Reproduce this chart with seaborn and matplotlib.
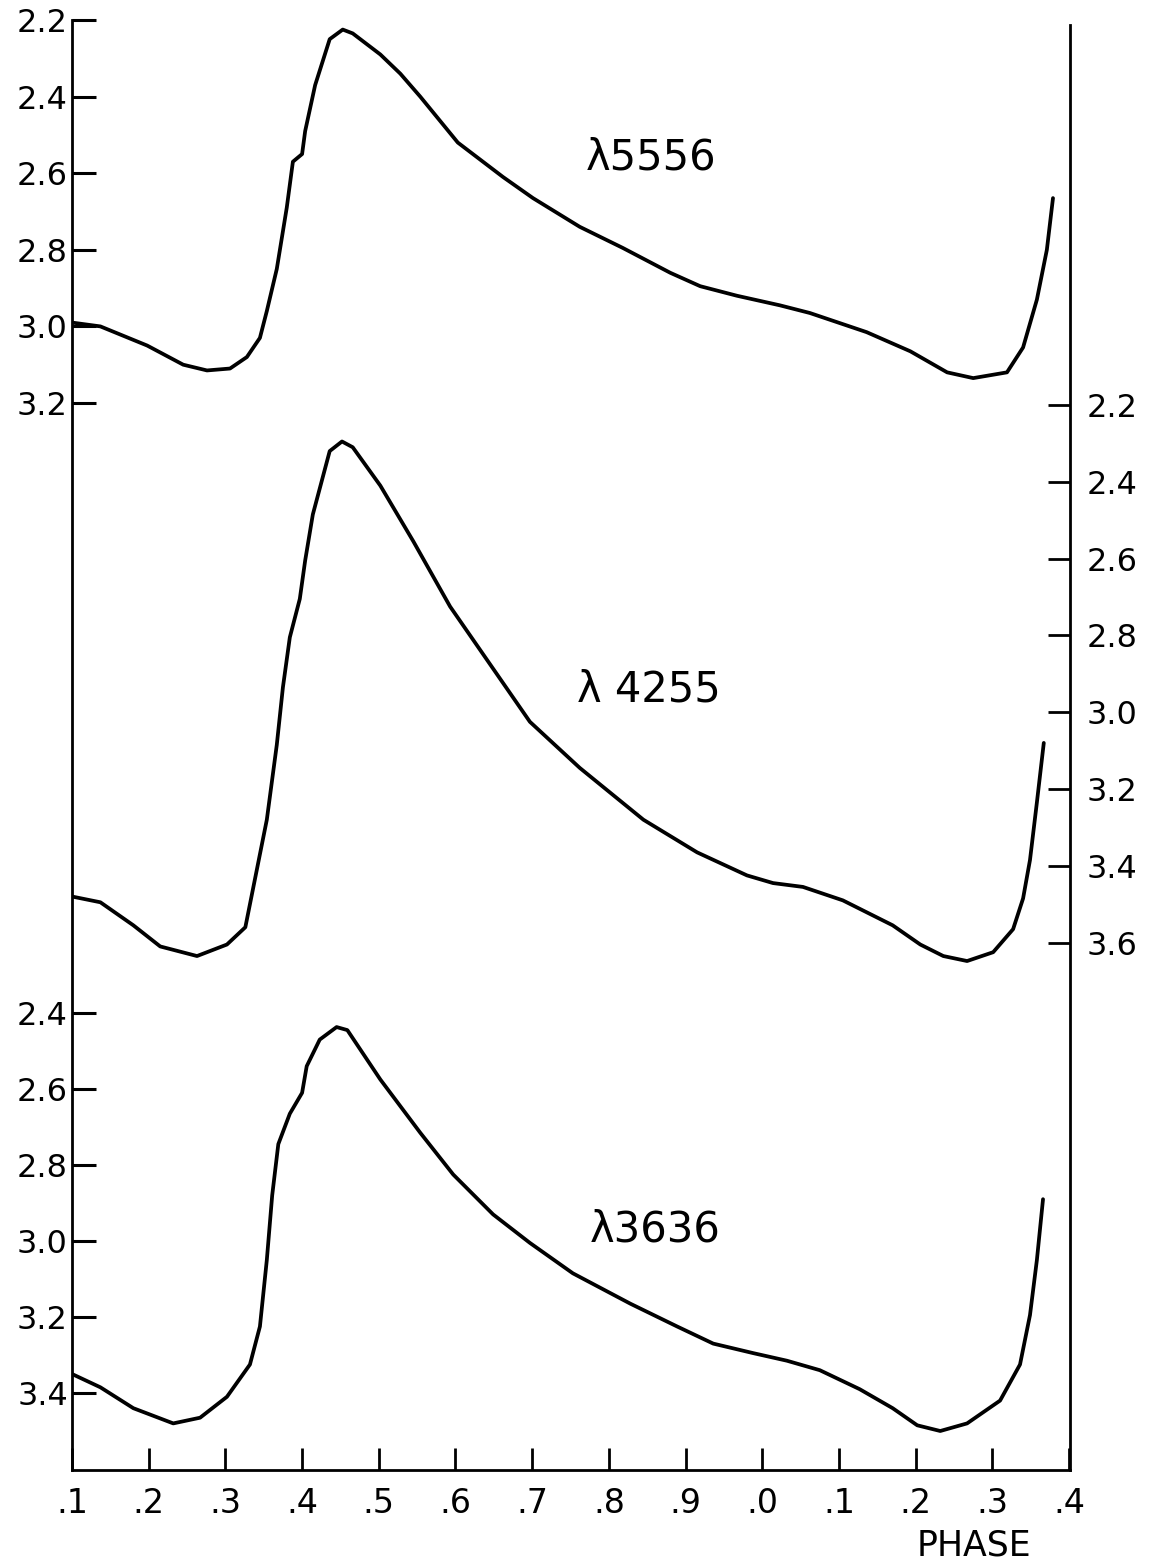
import matplotlib
matplotlib.use("Agg")
import matplotlib.pyplot as plt
import numpy as np
import pandas as pd
import seaborn as sns

# ---------------- data ----------------
phase_5556 = [0.100, 0.137, 0.198, 0.245, 0.276, 0.306, 0.328, 0.345, 0.354, 0.367,
              0.380, 0.388, 0.400, 0.404, 0.417, 0.436, 0.453, 0.466, 0.502, 0.528,
              0.554, 0.603, 0.662, 0.701, 0.762, 0.818, 0.880, 0.919, 0.967, 1.023,
              1.062, 1.136, 1.193, 1.241, 1.275, 1.319, 1.340, 1.358, 1.371, 1.379]
mag_5556 = [2.99, 3.00, 3.05, 3.10, 3.115, 3.11, 3.08, 3.03, 2.96, 2.85,
            2.69, 2.57, 2.55, 2.49, 2.37, 2.25, 2.225, 2.235, 2.29, 2.34,
            2.40, 2.52, 2.61, 2.665, 2.74, 2.795, 2.86, 2.895, 2.92, 2.945,
            2.965, 3.015, 3.065, 3.12, 3.135, 3.12, 3.055, 2.93, 2.80, 2.665]

phase_4255 = [0.100, 0.137, 0.180, 0.215, 0.263, 0.302, 0.326, 0.336, 0.354, 0.367,
              0.375, 0.384, 0.397, 0.404, 0.414, 0.436, 0.452, 0.466, 0.502, 0.545,
              0.593, 0.645, 0.697, 0.762, 0.845, 0.915, 0.980, 1.014, 1.053, 1.105,
              1.170, 1.206, 1.236, 1.267, 1.301, 1.327, 1.340, 1.349, 1.358, 1.367]
mag_4255 = [3.48, 3.495, 3.555, 3.61, 3.635, 3.605, 3.56, 3.46, 3.28, 3.085,
            2.935, 2.805, 2.705, 2.605, 2.485, 2.32, 2.295, 2.31, 2.41, 2.555,
            2.725, 2.875, 3.025, 3.145, 3.28, 3.365, 3.425, 3.445, 3.455, 3.49,
            3.555, 3.605, 3.635, 3.648, 3.625, 3.565, 3.485, 3.385, 3.235, 3.08]

phase_3636 = [0.100, 0.137, 0.180, 0.232, 0.267, 0.302, 0.332, 0.345, 0.354, 0.361,
              0.369, 0.384, 0.400, 0.406, 0.423, 0.445, 0.459, 0.502, 0.554, 0.597,
              0.649, 0.697, 0.753, 0.828, 0.889, 0.936, 0.988, 1.032, 1.075, 1.127,
              1.170, 1.202, 1.232, 1.267, 1.310, 1.336, 1.349, 1.358, 1.366]
mag_3636 = [3.35, 3.385, 3.44, 3.48, 3.465, 3.41, 3.325, 3.225, 3.05, 2.88,
            2.745, 2.665, 2.61, 2.54, 2.47, 2.437, 2.445, 2.575, 2.715, 2.825,
            2.93, 3.005, 3.085, 3.165, 3.225, 3.27, 3.295, 3.315, 3.34, 3.39,
            3.44, 3.485, 3.50, 3.48, 3.42, 3.325, 3.195, 3.05, 2.89]

labels = ["λ5556", "λ 4255", "λ3636"]

x_ticks = [0.1, 0.2, 0.3, 0.4, 0.5, 0.6, 0.7, 0.8, 0.9, 1.0, 1.1, 1.2, 1.3, 1.4]
x_ticklabels = [".1", ".2", ".3", ".4", ".5", ".6", ".7", ".8", ".9", ".0",
                ".1", ".2", ".3", ".4"]
yticks_5556 = [2.2, 2.4, 2.6, 2.8, 3.0, 3.2]
yticks_4255 = [2.2, 2.4, 2.6, 2.8, 3.0, 3.2, 3.4, 3.6]
yticks_3636 = [2.4, 2.6, 2.8, 3.0, 3.2, 3.4]
x_label = "PHASE"

# ---------------- layout ----------------
sns.set_theme(style="white")
plt.rcParams['font.family'] = ['DejaVu Sans']
plt.rcParams['text.color'] = 'black'

W, H = 1152, 1565
L, R, T, B = 72, 1070, 20, 1470
fig = plt.figure(figsize=(W / 100, H / 100), dpi=100)
fig.patch.set_facecolor("white")
rect = [L / W, 1 - B / H, (R - L) / W, (B - T) / H]


def ylims(v0, y0, s):
    """Axis limits (inverted) so that value v0 lands at pixel row y0 with s px per unit."""
    return (v0 + (B - y0) / s, v0 + (T - y0) / s)


ax_a = fig.add_axes(rect)
ax_b = fig.add_axes(rect, sharex=ax_a)
ax_c = fig.add_axes(rect, sharex=ax_a)
for ax in (ax_a, ax_b, ax_c):
    ax.set_facecolor("none")
    for sp in ax.spines.values():
        sp.set_visible(False)
    ax.grid(False)

LW = 2.7
series = [(ax_a, phase_5556, mag_5556), (ax_b, phase_4255, mag_4255),
          (ax_c, phase_3636, mag_3636)]
for ax, ph, mg in series:
    df = pd.DataFrame({"phase": ph, "mag": mg})
    sns.lineplot(data=df, x="phase", y="mag", ax=ax, color="black",
                 linewidth=LW, sort=False, estimator=None, legend=False)
    ax.lines[-1].set_solid_joinstyle('round')
    ax.lines[-1].set_solid_capstyle('round')
    ax.set_xlabel("")
    ax.set_ylabel("")

ax_a.set_xlim(0.1, 0.1 + (R - L) / 767.0)
ax_a.set_ylim(*ylims(2.2, 20, 383))
ax_b.set_ylim(*ylims(2.2, 405, 384))
ax_c.set_ylim(*ylims(2.4, 1013, 380))

tick_font = 23
# top-left axis (lambda 5556)
ax_a.spines['left'].set_visible(True)
ax_a.spines['bottom'].set_visible(True)
ax_a.set_yticks(yticks_5556)
ax_a.set_yticklabels([f"{v:.1f}" for v in yticks_5556])
ax_a.tick_params(axis='y', left=True, right=False, direction='in', length=17,
                 width=2.2, pad=3, labelsize=tick_font, colors='black')
ax_a.set_xticks(x_ticks)
ax_a.set_xticklabels(x_ticklabels)
ax_a.tick_params(axis='x', bottom=True, top=False, direction='in', length=16,
                 width=2.0, pad=12, labelsize=tick_font + 1, colors='black')

# right axis (lambda 4255)
ax_b.spines['right'].set_visible(True)
top_b = 2.2 + (25 - 405) / 384
ax_b.spines['right'].set_bounds(ax_b.get_ylim()[0], top_b)
ax_b.yaxis.tick_right()
ax_b.set_yticks(yticks_4255)
ax_b.set_yticklabels([f"{v:.1f}" for v in yticks_4255])
ax_b.tick_params(axis='y', left=False, right=True, labelleft=False, labelright=True,
                 direction='in', length=16, width=2.0, pad=12, labelsize=tick_font,
                 colors='black')
ax_b.tick_params(axis='x', bottom=False, labelbottom=False)

# lower-left axis (lambda 3636)
ax_c.set_yticks(yticks_3636)
ax_c.set_yticklabels([f"{v:.1f}" for v in yticks_3636])
ax_c.tick_params(axis='y', left=True, right=False, direction='in', length=17,
                 width=2.2, pad=3, labelsize=tick_font, colors='black')
ax_c.tick_params(axis='x', bottom=False, labelbottom=False)

for ax in (ax_a, ax_b, ax_c):
    for sp in ax.spines.values():
        sp.set_linewidth(2.0)
        sp.set_color('black')

# curve labels
fig.text(651 / W, 1 - 157 / H, labels[0], fontsize=30, ha='center', va='center',
         color='black')
fig.text(649 / W, 1 - 690 / H, labels[1], fontsize=30, ha='center', va='center',
         color='black')
fig.text(655 / W, 1 - 1230 / H, labels[2], fontsize=30, ha='center', va='center',
         color='black')
fig.text(974 / W, 1 - 1545 / H, x_label, fontsize=25, ha='center', va='center',
         color='black')

fig.savefig("out.png", dpi=100, facecolor="white")
